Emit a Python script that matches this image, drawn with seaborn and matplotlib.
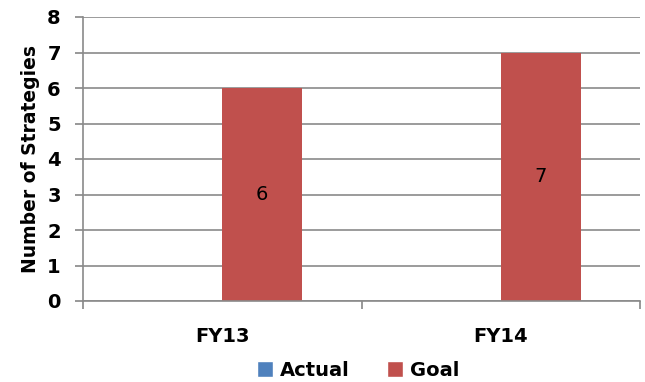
import matplotlib
matplotlib.use("Agg")
import matplotlib.pyplot as plt
import seaborn as sns
import pandas as pd
from matplotlib.patches import Patch

categories = ["FY13", "FY14"]
series_names = ["Actual", "Goal"]
actual_values = [0, 0]
goal_values = [6, 7]
yticks = [0, 1, 2, 3, 4, 5, 6, 7, 8]

colors = {"Actual": "#4F81BD", "Goal": "#C0504D"}

sns.set_theme(style="white")
plt.rcParams["font.family"] = ["DejaVu Sans"]
plt.rcParams["text.color"] = "black"
plt.rcParams["xtick.labelcolor"] = "black"
plt.rcParams["ytick.labelcolor"] = "black"
plt.rcParams["axes.labelcolor"] = "black"

df = pd.DataFrame({
    "Year": categories * 2,
    "Series": [series_names[0]] * 2 + [series_names[1]] * 2,
    "Value": actual_values + goal_values,
})

fig = plt.figure(figsize=(6.45, 3.82), dpi=100)
ax = fig.add_axes([83 / 645, 1 - 301 / 382, (640 - 83) / 645, (301 - 17) / 382])

sns.barplot(data=df, x="Year", y="Value", hue="Series", palette=colors,
            width=0.575, ax=ax, legend=False, saturation=1)

for p in ax.patches:
    p.set_linewidth(0)

# data labels inside goal bars
for i, v in enumerate(goal_values):
    ax.text(i + 0.575 / 4, v / 2, str(v), ha="center", va="center",
            fontsize=14, color="black")

ax.set_ylim(0, 8)
ax.set_xlim(-0.5, 1.5)
ax.set_yticks(yticks)
ax.set_yticklabels([str(t) for t in yticks], fontsize=14, fontweight="bold")
ax.set_xticks(range(len(categories)))
ax.set_xticklabels(categories, fontsize=14, fontweight="bold")
ax.set_xticks([-0.5, 0.5, 1.5], minor=True)
ax.tick_params(axis="x", which="major", length=0, pad=19)
ax.tick_params(axis="x", which="minor", length=6, color="#868686", width=1.2, direction="out", bottom=True)
ax.tick_params(axis="y", length=6, color="#868686", width=1.2, direction="out", left=True, pad=10)

ax.yaxis.grid(True, color="#8a8a8a", linewidth=1.2)
ax.set_axisbelow(True)
for s in ["top", "right"]:
    ax.spines[s].set_visible(False)
for s in ["left", "bottom"]:
    ax.spines[s].set_color("#8a8a8a")
    ax.spines[s].set_linewidth(1.2)

ax.set_xlabel("")
ax.set_ylabel("Number of Strategies", fontsize=13.5, fontweight="bold", labelpad=5)

handles = [Patch(facecolor=colors[n], label=n) for n in series_names]
leg = fig.legend(handles=handles, loc="center", bbox_to_anchor=(358 / 645, 1 - 370 / 382),
                 ncol=2, frameon=False, prop={"size": 14, "weight": "bold"},
                 handlelength=0.85, handleheight=0.85, handletextpad=0.35, columnspacing=1.9)

fig.savefig("out.png", dpi=100)
